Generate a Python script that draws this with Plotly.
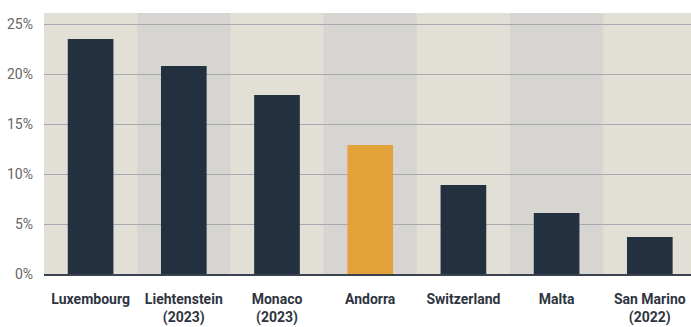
import plotly.graph_objects as go

categories = ["Luxembourg", "Liehtenstein<br>(2023)", "Monaco<br>(2023)", "Andorra",
              "Switzerland", "Malta", "San Marino<br>(2022)"]
values = [23.5, 20.8, 17.9, 12.9, 8.9, 6.1, 3.7]
highlight = "Andorra"
tick_vals = [0, 5, 10, 15, 20, 25]
tick_text = ["0%", "5%", "10%", "15%", "20%", "25%"]

dark = "#233040"
orange = "#e3a23a"
colors = [orange if c == highlight else dark for c in categories]

fig = go.Figure(go.Bar(x=categories, y=values, marker_color=colors, marker_line_width=0,
                       width=0.49, hoverinfo="skip"))

shapes = []
for i in range(len(categories)):
    if i % 2 == 1:
        shapes.append(dict(type="rect", xref="x", yref="paper", x0=i - 0.5, x1=i + 0.5,
                           y0=0, y1=1, fillcolor="#d6d5d1", line_width=0, layer="below"))

fig.update_layout(
    width=691, height=327,
    margin=dict(l=44, r=0, t=13, b=53),
    paper_bgcolor="white", plot_bgcolor="#e2dfd7",
    shapes=shapes, showlegend=False,
    font=dict(family="Roboto, sans-serif"),
)
fig.update_xaxes(
    range=[-0.5, 6.442], showgrid=False, automargin=False,
    showline=True, linecolor="#3b4250", linewidth=2,
    tickfont=dict(size=14, color="#2f3540", family="Roboto, sans-serif", weight="bold"),
    ticks="", ticklabelstandoff=11,
)
fig.update_yaxes(
    range=[0, 26.1], tickvals=tick_vals, ticktext=tick_text, automargin=False,
    showgrid=True, gridcolor="#a9a8ae", gridwidth=1, zeroline=False,
    tickfont=dict(size=14, color="#666666"), ticks="", ticklabelstandoff=10,
)
fig.write_html("out.html", config={"displayModeBar": False},
               post_script="document.body.style.margin='0';document.body.style.overflow='hidden';")
